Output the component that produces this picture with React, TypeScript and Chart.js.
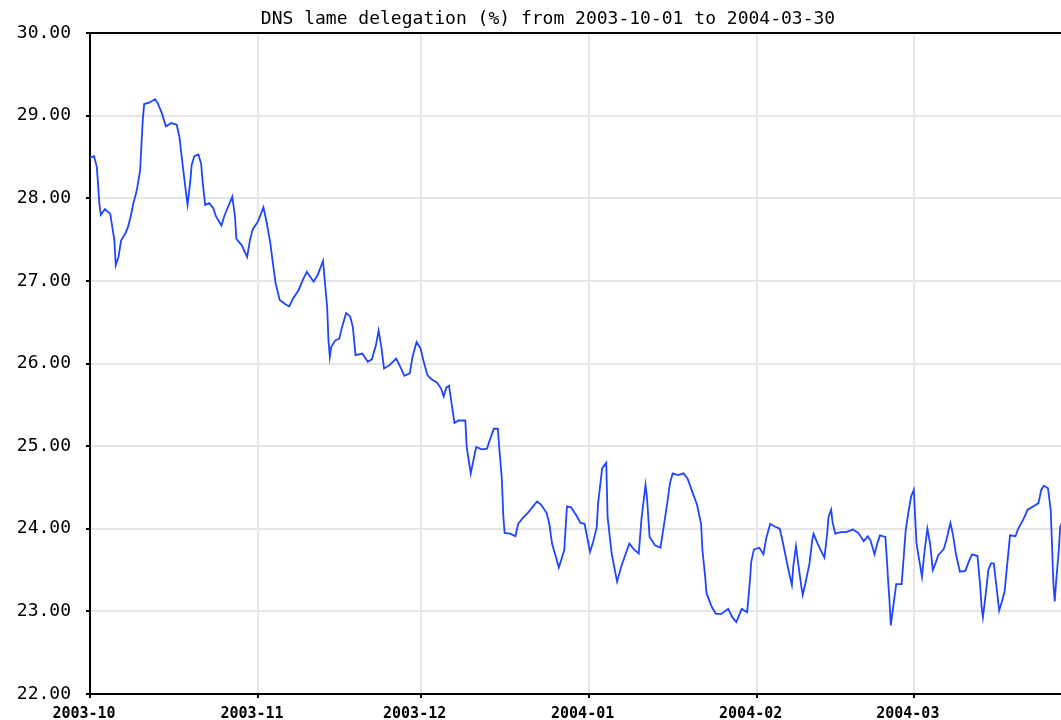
import React, { useEffect, useRef } from "react";
import { Chart, registerables } from "chart.js";

Chart.register(...registerables);

const TITLE = "DNS lame delegation (%) from 2003-10-01 to 2004-03-30";

// days since 2003-10-01
const monthTickDays = [0, 31, 61, 92, 123, 152];
const monthTickLabels = ["2003-10", "2003-11", "2003-12", "2004-01", "2004-02", "2004-03"];

const days = [
  0, 0.75, 1.25, 1.5, 1.75, 2, 2.75, 3.75, 4, 4.5, 4.75, 5.25, 5.75, 6.5, 7, 7.5, 8, 8.5, 8.75, 9.25,
  9.5, 9.75, 10, 11, 12, 12.5, 13.25, 14, 15, 16, 16.5, 17, 17.5, 18, 18.5, 18.75, 19.25, 20, 20.5, 20.75,
  21.25, 22, 22.75, 23.25, 24.25, 24.75, 25.5, 26.25, 26.75, 27, 28, 29, 29.5, 30, 31, 32, 32.5, 33.25, 33.75, 34.25,
  35, 36, 36.75, 37.5, 38.5, 39.25, 40, 41.25, 42, 43, 43.25, 43.75, 44, 44.25, 44.5, 45.25, 46, 46.5, 47.25, 48,
  48.5, 49, 50.25, 51.25, 52, 52.75, 53.25, 53.75, 54.25, 55.25, 56.5, 57.25, 58, 59, 59.5, 60.25, 61, 61.5, 62.25, 63,
  64, 64.75, 65.25, 65.75, 66.25, 66.75, 67.25, 68, 69.25, 69.5, 70.25, 70.75, 71.25, 72.25, 73.25, 73.75, 74.5, 75.25, 75.5, 76,
  76.25, 76.5, 77.5, 78.5, 79, 80, 80.75, 81.75, 82.5, 83.25, 84.25, 84.75, 85.25, 86, 86.5, 87.5, 88, 88.75, 89.75, 90.5,
  91.25, 92.25, 92.75, 93.5, 93.75, 94.5, 95.25, 95.5, 96.25, 97.25, 98, 98.75, 99.5, 100.5, 101.25, 101.75, 102.5, 102.75, 103.25, 104.25,
  105.25, 105.75, 106.5, 107, 107.5, 108.5, 109.5, 110.25, 111, 112, 112.75, 113, 113.5, 113.75, 114.75, 115.5, 116.5, 117.75, 118.5, 119.25,
  120.25, 121.25, 121.75, 122, 122.5, 123.5, 124.25, 124.75, 125.5, 126.25, 127.25, 127.75, 128.5, 129, 129.5, 129.75, 130.25, 130.75, 131.25, 131.5,
  132, 132.75, 133.25, 133.5, 134.25, 135.5, 136, 136.25, 136.75, 137, 137.5, 138.5, 139.5, 140.75, 141.75, 142.75, 143.5, 144, 144.75, 145.25,
  145.75, 146.75, 147, 147.25, 147.5, 147.75, 148.25, 148.75, 149.75, 150, 150.5, 151, 151.5, 152, 152.25, 152.5, 153, 153.5, 154, 154.5,
  155, 155.5, 156, 156.5, 157.5, 158, 158.75, 159.25, 159.75, 160.5, 161.5, 162.25, 162.75, 163.75, 164.25, 164.5, 164.75, 165.25, 165.75, 166.25,
  166.75, 167.25, 167.75, 168.25, 168.75, 169.25, 169.75, 170.75, 171.25, 172.25, 173, 174, 175, 175.5, 176, 176.75, 177.25, 177.5, 177.75, 178,
  178.25, 178.75, 179, 179.5, 180,
];

const lamePct = [
  28.49, 28.51, 28.38, 28.16, 27.92, 27.8, 27.87, 27.81, 27.7, 27.49, 27.19, 27.29, 27.49, 27.57, 27.65, 27.78, 27.94, 28.06, 28.14, 28.34,
  28.66, 28.96, 29.14, 29.16, 29.2, 29.15, 29.03, 28.87, 28.91, 28.89, 28.74, 28.46, 28.18, 27.92, 28.2, 28.4, 28.51, 28.53, 28.42, 28.22,
  27.92, 27.94, 27.88, 27.78, 27.67, 27.78, 27.9, 28.02, 27.78, 27.51, 27.43, 27.29, 27.49, 27.62, 27.72, 27.89, 27.74, 27.47, 27.21, 26.97,
  26.77, 26.72, 26.69, 26.79, 26.89, 27.01, 27.11, 26.99, 27.07, 27.24, 27.05, 26.69, 26.28, 26.08, 26.2, 26.28, 26.3, 26.44, 26.61, 26.57,
  26.44, 26.1, 26.12, 26.02, 26.05, 26.22, 26.4, 26.2, 25.94, 25.98, 26.06, 25.96, 25.85, 25.88, 26.08, 26.26, 26.18, 26.04, 25.86, 25.81,
  25.77, 25.7, 25.6, 25.71, 25.73, 25.5, 25.28, 25.31, 25.31, 24.99, 24.67, 24.83, 24.99, 24.96, 24.97, 25.07, 25.21, 25.21, 24.99, 24.59,
  24.16, 23.95, 23.94, 23.91, 24.06, 24.14, 24.19, 24.27, 24.33, 24.29, 24.19, 24.06, 23.82, 23.65, 23.53, 23.74, 24.27, 24.26, 24.16, 24.07,
  24.06, 23.72, 23.82, 24.02, 24.31, 24.73, 24.8, 24.14, 23.7, 23.36, 23.54, 23.68, 23.82, 23.74, 23.7, 24.12, 24.53, 24.39, 23.9, 23.8,
  23.77, 23.98, 24.31, 24.55, 24.67, 24.65, 24.67, 24.61, 24.47, 24.29, 24.06, 23.74, 23.42, 23.22, 23.05, 22.97, 22.97, 23.03, 22.93, 22.87,
  23.03, 22.99, 23.36, 23.6, 23.75, 23.77, 23.69, 23.88, 24.06, 24.03, 24.0, 23.86, 23.62, 23.46, 23.32, 23.54, 23.79, 23.54, 23.3, 23.2,
  23.34, 23.58, 23.86, 23.94, 23.82, 23.65, 23.93, 24.14, 24.23, 24.08, 23.94, 23.96, 23.96, 23.99, 23.95, 23.85, 23.91, 23.86, 23.69, 23.82,
  23.92, 23.9, 23.66, 23.38, 23.14, 22.83, 23.08, 23.33, 23.33, 23.54, 23.98, 24.2, 24.39, 24.47, 24.14, 23.82, 23.62, 23.42, 23.74, 24.0,
  23.82, 23.5, 23.58, 23.68, 23.75, 23.86, 24.07, 23.92, 23.7, 23.48, 23.49, 23.62, 23.69, 23.67, 23.3, 23.05, 22.93, 23.2, 23.5, 23.58,
  23.58, 23.3, 23.01, 23.12, 23.24, 23.58, 23.92, 23.91, 24.0, 24.12, 24.23, 24.27, 24.31, 24.47, 24.52, 24.49, 24.23, 23.8, 23.34, 23.12,
  23.36, 23.74, 24.02, 24.1, 24.05,
];

const Y_MIN = 22;
const Y_MAX = 30;
const X_MIN = 0;
const X_MAX = 181;

export default function App() {
  const canvasRef = useRef<HTMLCanvasElement | null>(null);

  useEffect(() => {
    const canvas = canvasRef.current;
    if (!canvas) return;
    const points = days.map((d, i) => ({ x: d, y: lamePct[i] }));
    const gridGray = "#e6e6e6";
    const chart = new Chart(canvas, {
      type: "line",
      data: {
        datasets: [
          {
            data: points,
            yAxisID: "y",
            borderColor: "#1f45ff",
            borderWidth: 1.8,
            pointRadius: 0,
            tension: 0,
            fill: false,
          },
        ],
      },
      options: {
        responsive: false,
        animation: false,
        events: [],
        layout: { padding: 0 },
        plugins: {
          legend: { display: false },
          tooltip: { enabled: false },
          title: {
            display: true,
            text: TITLE,
            color: "#000",
            font: { family: "'DejaVu Sans Mono', monospace", size: 18, weight: "normal" },
            padding: { top: 8.5, bottom: 2.9 },
          },
        },
        scales: {
          x: {
            type: "linear",
            min: X_MIN,
            max: X_MAX,
            afterBuildTicks: (scale: any) => {
              scale.ticks = monthTickDays.map((v) => ({ value: v }));
            },
            afterFit: (scale: any) => {
              scale.height = 26;
            },
            ticks: {
              color: "#000",
              padding: 7,
              labelOffset: -6,
              maxRotation: 0,
              autoSkip: false,
              font: { family: "'DejaVu Sans Mono', monospace", size: 15, weight: "bold" },
              callback: (value: any) => {
                const idx = monthTickDays.indexOf(Number(value));
                return idx >= 0 ? monthTickLabels[idx] : "";
              },
            },
            grid: {
              color: gridGray,
              lineWidth: 2,
              tickLength: 4,
              tickColor: "#000",
              tickWidth: 2,
            },
            border: { color: "#000", width: 2 },
          },
          y: {
            type: "linear",
            position: "left",
            min: Y_MIN,
            max: Y_MAX,
            afterFit: (scale: any) => {
              scale.width = 90;
            },
            ticks: {
              stepSize: 1,
              color: "#000",
              padding: 15,
              font: { family: "'DejaVu Sans Mono', monospace", size: 18, weight: "normal" },
              callback: (value: any) => Number(value).toFixed(2),
            },
            grid: {
              color: (ctx: any) => (ctx.tick && ctx.tick.value === Y_MAX ? "#000" : gridGray),
              lineWidth: 2,
              tickLength: 4,
              tickColor: "#000",
              tickWidth: 2,
            },
            border: { color: "#000", width: 2 },
          },
          yRight: {
            type: "linear",
            position: "right",
            min: Y_MIN,
            max: Y_MAX,
            afterFit: (scale: any) => {
              scale.width = 25;
            },
            ticks: { display: false },
            grid: { display: false, drawTicks: false },
            border: { display: false },
          },
        },
      },
    });
    return () => chart.destroy();
  }, []);

  return (
    <div
      style={{
        position: "fixed",
        left: 0,
        top: 0,
        width: 1061,
        height: 720,
        overflow: "hidden",
        background: "#fff",
      }}
    >
      <canvas ref={canvasRef} width={1096} height={720} style={{ display: "block" }} />
    </div>
  );
}
